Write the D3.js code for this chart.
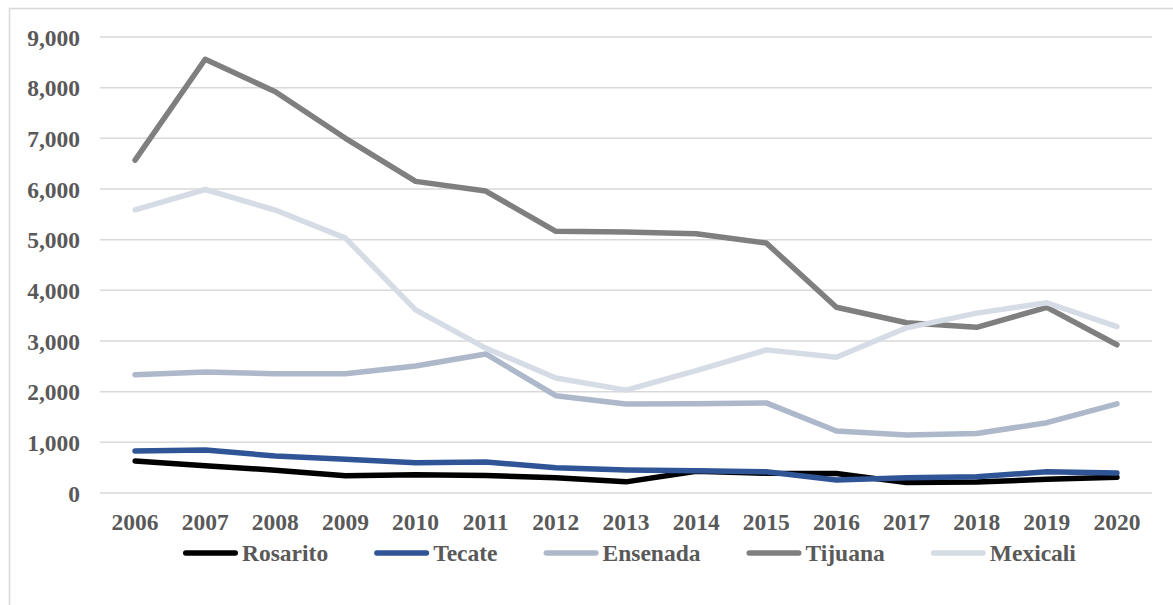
<!DOCTYPE html>
<html>
<head>
<meta charset="utf-8">
<script src="https://cdn.jsdelivr.net/npm/d3@7"></script>
<style>
  body { margin: 0; background: #fff; }
  text { font-family: "Times New Roman", "Liberation Serif", serif; font-weight: bold; fill: #595959; }
</style>
</head>
<body>
<div id="chart"></div>
<script>
// data
var years = ["2006","2007","2008","2009","2010","2011","2012","2013","2014","2015","2016","2017","2018","2019","2020"];
var rosarito = [630, 540, 450, 340, 360, 345, 300, 220, 430, 390, 385, 205, 215, 270, 310];
var tecate   = [830, 850, 730, 665, 598, 610, 500, 455, 440, 420, 258, 302, 322, 420, 395];
var ensenada = [2335, 2390, 2355, 2355, 2505, 2745, 1920, 1757, 1760, 1778, 1224, 1145, 1175, 1388, 1760];
var tijuana  = [6570, 8560, 7920, 7000, 6150, 5960, 5165, 5150, 5115, 4935, 3665, 3360, 3270, 3665, 2925];
var mexicali = [5590, 5990, 5585, 5030, 3615, 2860, 2270, 2030, 2415, 2825, 2680, 3260, 3550, 3755, 3285];
var yTicks = [0, 1000, 2000, 3000, 4000, 5000, 6000, 7000, 8000, 9000];

var series = [
  {name: "Rosarito", values: rosarito, color: "#000000"},
  {name: "Tecate",   values: tecate,   color: "#2F5597"},
  {name: "Ensenada", values: ensenada, color: "#ADB9CA"},
  {name: "Tijuana",  values: tijuana,  color: "#7F7F7F"},
  {name: "Mexicali", values: mexicali, color: "#D6DCE5"}
];

var width = 1173, height = 605;
var svg = d3.select("#chart").append("svg")
    .attr("width", width)
    .attr("height", height);

// chart border
svg.append("rect")
    .attr("x", 9.5).attr("y", 8.5)
    .attr("width", 1200).attr("height", 620)
    .attr("fill", "none")
    .attr("stroke", "#D9D9D9")
    .attr("stroke-width", 1.5);

var x = d3.scaleBand().domain(years).range([100, 1152]);
var y = d3.scaleLinear().domain([0, 9000]).range([493, 37]);

// gridlines
svg.append("g")
  .selectAll("line")
  .data(yTicks)
  .enter()
  .append("line")
    .attr("x1", 100).attr("x2", 1152)
    .attr("y1", function(d){ return y(d); })
    .attr("y2", function(d){ return y(d); })
    .attr("stroke", "#D9D9D9")
    .attr("stroke-width", 1.5);

// y axis labels
var yAxis = svg.append("g")
    .attr("transform", "translate(80,0)")
    .call(d3.axisLeft(y).tickValues(yTicks).tickSize(0).tickPadding(0).tickFormat(d3.format(",")));
yAxis.select(".domain").remove();
yAxis.selectAll("text")
    .attr("font-size", "23.5px")
    .attr("font-family", null)
    .attr("dy", "0.35em");

// x axis labels
var xAxis = svg.append("g")
    .attr("transform", "translate(0,513)")
    .call(d3.axisBottom(x).tickSize(0).tickPadding(0));
xAxis.select(".domain").remove();
xAxis.selectAll("text")
    .attr("font-size", "23.5px")
    .attr("font-family", null)
    .attr("dy", "0.71em");

// lines
var line = d3.line()
    .x(function(d, i){ return x(years[i]) + x.bandwidth() / 2; })
    .y(function(d){ return y(d); });

svg.append("g")
  .selectAll("path")
  .data(series)
  .enter()
  .append("path")
    .attr("d", function(d){ return line(d.values); })
    .attr("fill", "none")
    .attr("stroke", function(d){ return d.color; })
    .attr("stroke-width", 5.5)
    .attr("stroke-linecap", "round")
    .attr("stroke-linejoin", "round");

// legend
var legend = svg.append("g");
var lx = 183;
series.forEach(function(s) {
  legend.append("line")
    .attr("x1", lx + 2.75).attr("x2", lx + 52.25)
    .attr("y1", 553).attr("y2", 553)
    .attr("stroke", s.color)
    .attr("stroke-width", 5.5)
    .attr("stroke-linecap", "round");
  var t = legend.append("text")
    .attr("x", lx + 59)
    .attr("y", 561)
    .attr("font-size", "23.5px")
    .text(s.name);
  lx = lx + 59 + t.node().getComputedTextLength() + 46;
});
</script>
</body>
</html>
